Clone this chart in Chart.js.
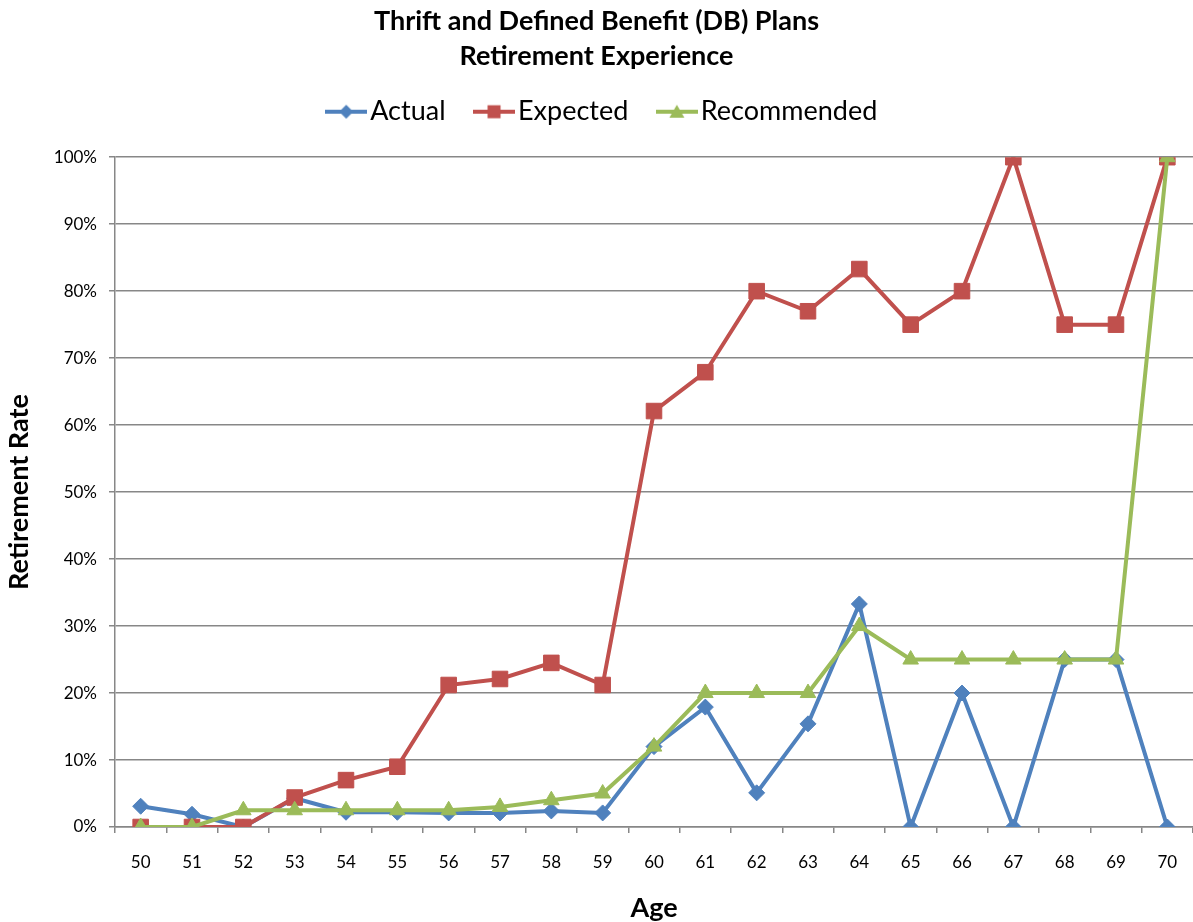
<!DOCTYPE html>
<html>
<head>
<meta charset="utf-8">
<title>Thrift and Defined Benefit (DB) Plans - Retirement Experience</title>
<script src="https://cdn.jsdelivr.net/npm/chart.js@4/dist/chart.umd.min.js"></script>
<style>
  html, body { margin: 0; padding: 0; background: #fff; }
  #wrap { width: 1193px; height: 922px; }
</style>
</head>
<body>
<div id="wrap"><canvas id="chart" width="1193" height="922"></canvas></div>
<script>
// Retirement rate by age (percent)
const ages = ['50','51','52','53','54','55','56','57','58','59','60','61','62','63','64','65','66','67','68','69','70'];
const actual = [3.1, 1.9, 0, 4.3, 2.2, 2.2, 2.1, 2.1, 2.4, 2.1, 12.0, 17.9, 5.1, 15.4, 33.3, 0, 20.0, 0, 25.0, 25.0, 0];
const expected = [0, 0, 0, 4.4, 7.0, 9.0, 21.2, 22.1, 24.5, 21.2, 62.1, 67.9, 80.0, 77.0, 83.3, 75.0, 80.0, 100.0, 75.0, 75.0, 100.0];
const recommended = [0, 0, 2.5, 2.5, 2.5, 2.5, 2.5, 3.0, 4.0, 5.0, 12.0, 20.0, 20.0, 20.0, 30.0, 25.0, 25.0, 25.0, 25.0, 25.0, 100.0];
const seriesNames = ['Actual', 'Expected', 'Recommended'];
const titleLines = ['Thrift and Defined Benefit (DB) Plans', 'Retirement Experience'];

const BLUE = '#4F81BD', RED = '#C0504D', GREEN = '#9BBB59';
const FONT = 'Lato, "Open Sans", "DejaVu Sans", sans-serif';

// Legend swatch: a short line with the series marker in its middle
function legendIcon(color, shape) {
  const c = document.createElement('canvas');
  c.width = 42; c.height = 18;
  const g = c.getContext('2d');
  g.strokeStyle = color; g.lineWidth = 4;
  g.beginPath(); g.moveTo(0, 9); g.lineTo(42, 9); g.stroke();
  g.fillStyle = color;
  g.beginPath();
  if (shape === 'diamond') {
    g.moveTo(21, 2); g.lineTo(28, 9); g.lineTo(21, 16); g.lineTo(14, 9);
  } else if (shape === 'square') {
    g.rect(14.5, 2.5, 13, 13);
  } else {
    g.moveTo(21, 2); g.lineTo(28.5, 15); g.lineTo(13.5, 15);
  }
  g.closePath(); g.fill();
  return c;
}
const icons = [legendIcon(BLUE, 'diamond'), legendIcon(RED, 'square'), legendIcon(GREEN, 'triangle')];

const gridColor = '#878787';

// Legend tweaks: extra space below the legend row, and a small rightward nudge
const legendTweaks = {
  id: 'legendTweaks',
  beforeInit(chart) {
    const legend = chart.legend;
    const origFit = legend.fit;
    legend.fit = function () {
      origFit.call(this);
      this.height += 22;
    };
    const origDraw = legend.draw;
    legend.draw = function () {
      const ctx = this.ctx;
      ctx.save();
      ctx.translate(10, 0);
      origDraw.call(this);
      ctx.restore();
    };
  }
};

new Chart(document.getElementById('chart'), {
  type: 'line',
  data: {
    labels: ages,
    datasets: [
      { label: seriesNames[0], data: actual, borderColor: BLUE, backgroundColor: BLUE,
        borderWidth: 4, pointStyle: 'rectRot', pointRadius: 8, pointBorderWidth: 1, order: 3, tension: 0 },
      { label: seriesNames[1], data: expected, borderColor: RED, backgroundColor: RED,
        borderWidth: 4, pointStyle: 'rect', pointRadius: 11, pointBorderWidth: 1, order: 2, tension: 0 },
      { label: seriesNames[2], data: recommended, borderColor: GREEN, backgroundColor: GREEN,
        borderWidth: 4, pointStyle: 'triangle', pointRadius: 9, pointBorderWidth: 1, order: 1, tension: 0 }
    ]
  },
  plugins: [legendTweaks],
  options: {
    responsive: false,
    animation: false,
    layout: { autoPadding: false, padding: { top: 0, right: 0, bottom: 0, left: 0 } },
    plugins: {
      tooltip: { enabled: false },
      title: {
        display: true,
        text: titleLines,
        color: '#000',
        font: { family: FONT, size: 27, weight: 'bold', lineHeight: 1.3 },
        padding: { top: 4, bottom: -14 }
      },
      legend: {
        display: true,
        position: 'top',
        labels: {
          color: '#000',
          font: { family: FONT, size: 27 },
          usePointStyle: true,
          pointStyleWidth: 21,
          padding: 38,
          generateLabels: (chart) => chart.data.datasets.map((ds, i) => ({
            text: ds.label,
            fillStyle: ds.borderColor,
            strokeStyle: ds.borderColor,
            lineWidth: 0,
            pointStyle: icons[i],
            hidden: false,
            datasetIndex: i,
            fontColor: '#000'
          }))
        }
      }
    },
    scales: {
      x: {
        type: 'category',
        offset: true,
        grid: { display: true, drawOnChartArea: false, offset: true, color: gridColor, lineWidth: 1.5, tickLength: 6 },
        border: { display: true, color: gridColor, width: 1.5 },
        ticks: { color: '#000', font: { family: FONT, size: 17 }, padding: 19, maxRotation: 0, autoSkip: false },
        title: { display: true, text: 'Age', color: '#000', font: { family: FONT, size: 27, weight: 'bold', lineHeight: 1.0 }, padding: { top: 0, bottom: 0.5 } },
        afterFit: (scale) => { scale.paddingLeft = 0; scale.paddingRight = 0; scale.height = 95; }
      },
      y: {
        min: 0,
        max: 100,
        grid: { color: gridColor, lineWidth: 1.5, tickLength: 6 },
        border: { display: true, color: gridColor, width: 1.5 },
        ticks: { stepSize: 10, color: '#000', font: { family: FONT, size: 17 }, padding: 12,
                 callback: (v) => v + '%' },
        title: { display: true, text: 'Retirement Rate', color: '#000', font: { family: FONT, size: 27, weight: 'bold' }, padding: { top: 3, bottom: 0 } },
        afterFit: (scale) => { scale.width = 115; }
      }
    }
  }
});
</script>
</body>
</html>
